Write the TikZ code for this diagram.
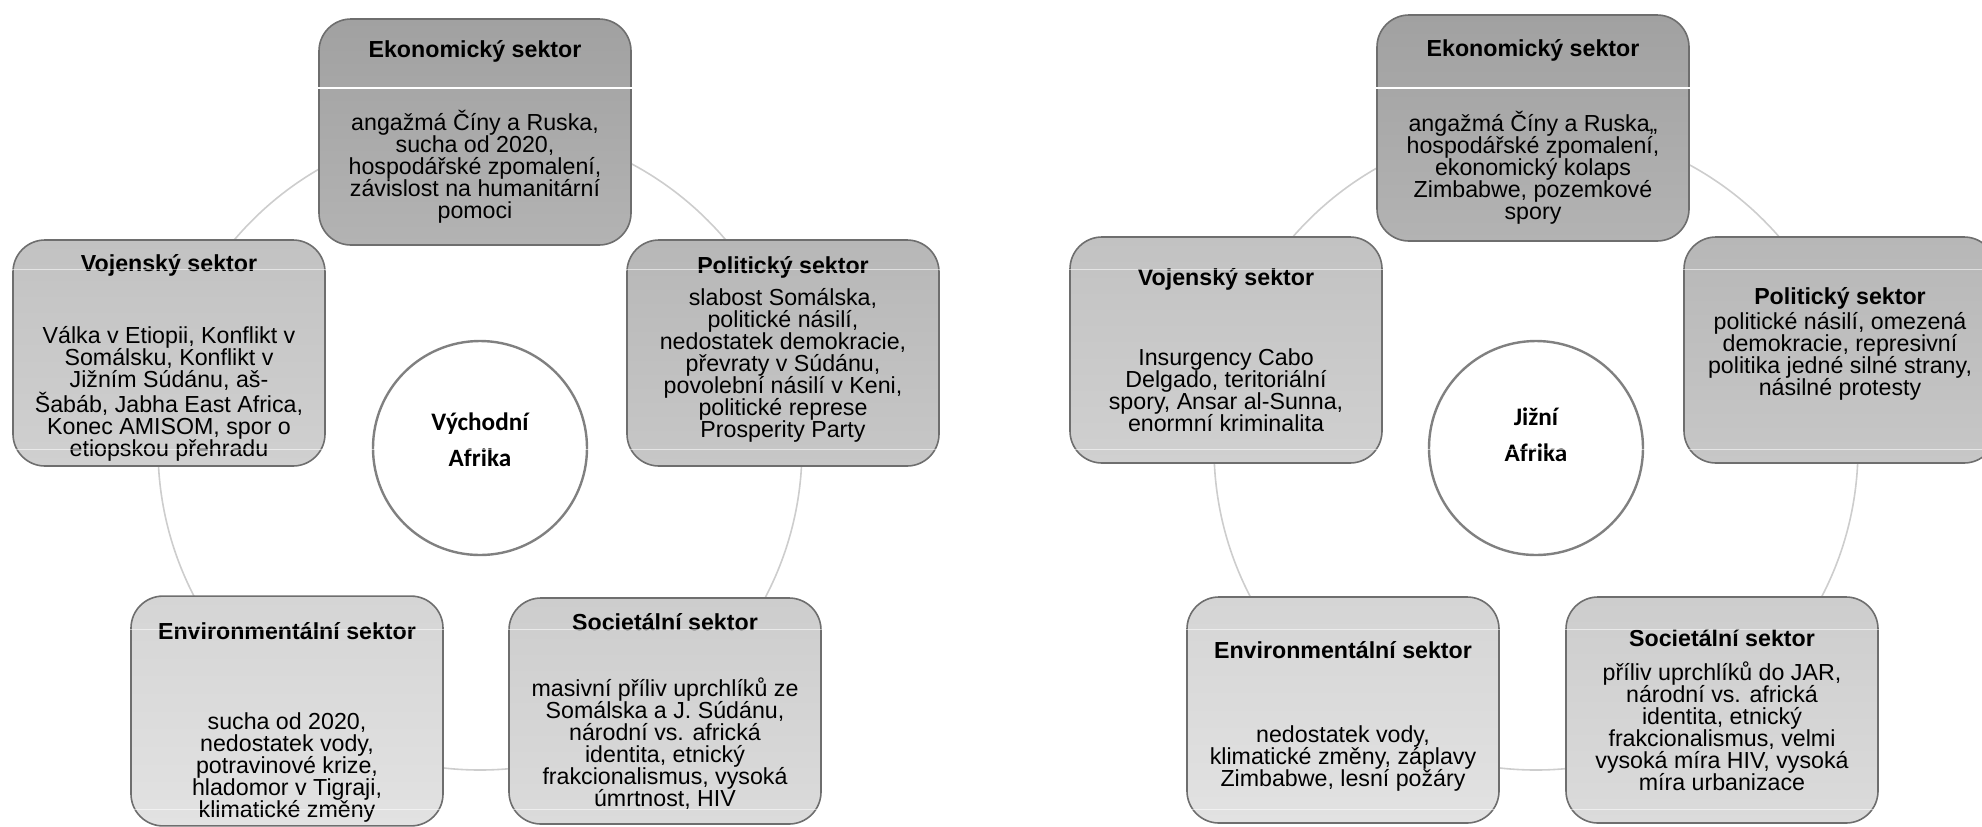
\documentclass[tikz,border=0pt]{standalone}
\usepackage{fontspec}
\setmainfont{Liberation Sans}
\newfontfamily\hubfont{Carlito}
\usepackage{tikz}
\usetikzlibrary{positioning,calc}
\definecolor{secline}{HTML}{6E6E6E}
\definecolor{ringgrey}{HTML}{CDCDCD}
\definecolor{hubgrey}{HTML}{808080}
\definecolor{econtop}{HTML}{A1A1A1}
\definecolor{econbot}{HTML}{B3B3B3}
\definecolor{poltop}{HTML}{B7B7B7}
\definecolor{polbot}{HTML}{C7C7C7}
\definecolor{vojtop}{HTML}{C2C2C2}
\definecolor{vojbot}{HTML}{D0D0D0}
\definecolor{soctop}{HTML}{CDCDCD}
\definecolor{socbot}{HTML}{DBDBDB}
\definecolor{envtop}{HTML}{D5D5D5}
\definecolor{envbot}{HTML}{E2E2E2}
% invisible struts to move a text block inside its box
\newcommand{\tallup}[1]{\rule{0pt}{#1}}
\newcommand{\deepdn}[1]{\rule[-#1]{0pt}{#1}}
\tikzset{
  sector/.style = {draw=secline, line width=0.8pt, rounded corners=16pt,
                   minimum width=156pt, minimum height=113pt, inner sep=2pt,
                   align=center, font=\fontsize{11.6}{11}\selectfont},
  hub/.style    = {draw=hubgrey, line width=1.2pt, circle, fill=white,
                   minimum size=107pt, inner sep=0pt, outer sep=0pt, align=center,
                   font=\hubfont\bfseries\fontsize{12.6}{18}\selectfont},
  ring/.style   = {draw=ringgrey, line width=0.8pt},
  econ/.style   = {top color=econtop, bottom color=econbot},
  pol/.style    = {top color=poltop, bottom color=polbot},
  voj/.style    = {top color=vojtop, bottom color=vojbot},
  soc/.style    = {top color=soctop, bottom color=socbot},
  env/.style    = {top color=envtop, bottom color=envbot},
  tile/.style   = {white, line width=0.5pt, opacity=0.55},
}
\begin{document}
\begin{tikzpicture}[x=0.5pt, y=-0.5pt]
  \useasboundingbox (0,0) rectangle (1982,826);
  % centres of both cycles
  \node[hub] (hubE) at (480,448) {Východní\\Afrika\deepdn{8pt}};
  \node[hub, right=421pt of hubE] (hubS) {Jižní\\Afrika\deepdn{13pt}};
  \draw[ring] (hubE) circle[radius=161pt];
  \draw[ring] (hubS) circle[radius=161pt];
  % East Africa
  \node[sector, econ] (econE) at ($(hubE)+(-5,-316)$)
    {\textbf{Ekonomický sektor}\\[23pt]angažmá Číny a Ruska,\\sucha od 2020,\\hospodářské zpomalení,\\závislost na humanitární\\pomoci};
  \node[sector, voj] (vojE) at ($(hubE)+(-311,-95)$)
    {\tallup{13.5pt}\textbf{Vojenský sektor}\\[25pt]Válka v Etiopii, Konflikt v\\Somálsku, Konflikt v\\Jižním Súdánu, aš-\\Šabáb, Jabha East Africa,\\Konec AMISOM, spor o\\etiopskou přehradu};
  \node[sector, pol] (polE) at ($(hubE)+(303,-95)$)
    {\textbf{Politický sektor}\\[5pt]slabost Somálska,\\politické násilí,\\nedostatek demokracie,\\převraty v Súdánu,\\povolební násilí v Keni,\\politické represe\\Prosperity Party\deepdn{6.4pt}};
  \node[sector, env] (envE) at ($(hubE)+(-193,263)$)
    {\tallup{19.5pt}\textbf{Environmentální sektor}\\[34pt]sucha od 2020,\\nedostatek vody,\\potravinové krize,\\hladomor v Tigraji,\\klimatické změny};
  \node[sector, soc] (socE) at ($(hubE)+(185,263)$)
    {\textbf{Societální sektor}\\[22pt]masivní příliv uprchlíků ze\\Somálska a J. Súdánu,\\národní vs. africká\\identita, etnický\\frakcionalismus, vysoká\\úmrtnost, HIV};
  % Southern Africa
  \node[sector, econ] (econS) at ($(hubS)+(-3,-320)$)
    {\tallup{12.5pt}\textbf{Ekonomický sektor}\\[24pt]angažmá Číny a Ruska,,\\hospodářské zpomalení,\\ekonomický kolaps\\Zimbabwe, pozemkové\\spory};
  \node[sector, voj] (vojS) at ($(hubS)+(-310,-98)$)
    {\textbf{Vojenský sektor}\\[29pt]Insurgency Cabo\\Delgado, teritoriální\\spory, Ansar al-Sunna,\\enormní kriminalita};
  \node[sector, pol] (polS) at ($(hubS)+(304,-98)$)
    {\textbf{Politický sektor}\\[1.5pt]politické násilí, omezená\\demokracie, represivní\\politika jedné silné strany,\\násilné protesty\deepdn{8.4pt}};
  \node[sector, env] (envS) at ($(hubS)+(-193,262)$)
    {\tallup{14.5pt}\textbf{Environmentální sektor}\\[31pt]nedostatek vody,\\klimatické změny, záplavy\\Zimbabwe, lesní požáry};
  \node[sector, soc] (socS) at ($(hubS)+(186,262)$)
    {\textbf{Societální sektor}\\[6pt]příliv uprchlíků do JAR,\\národní vs. africká\\identita, etnický\\frakcionalismus, velmi\\vysoká míra HIV, vysoká\\míra urbanizace};
  % white tile seams
  \draw[white, line width=0.7pt] (0,88) -- (1982,88);
  \foreach \yy in {269,449,629,809}
    \draw[tile] (0,\yy) -- (1982,\yy);
\end{tikzpicture}
\end{document}
